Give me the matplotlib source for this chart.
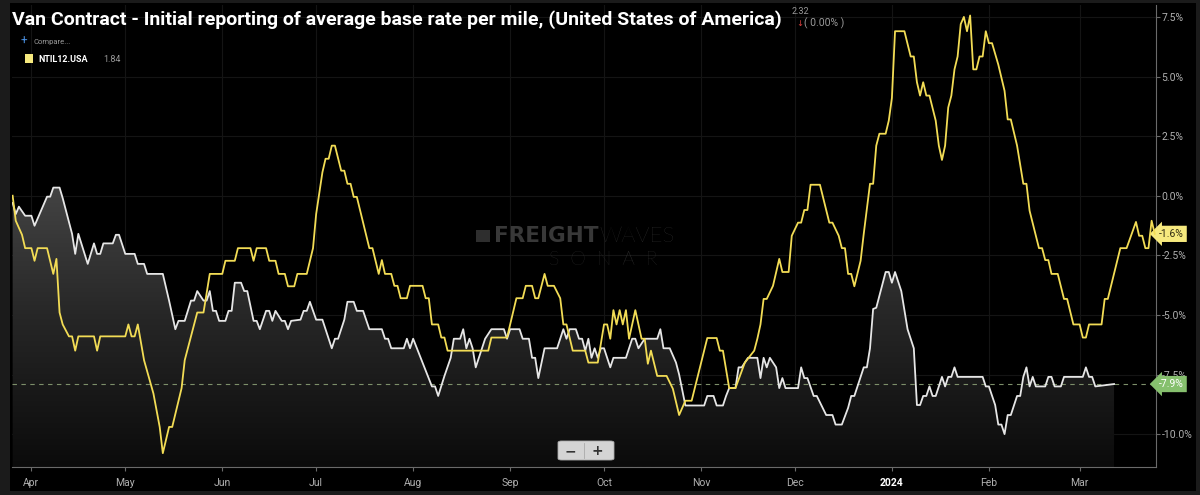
import numpy as np
import pandas as pd
import matplotlib
matplotlib.use("Agg")
import matplotlib.pyplot as plt
import matplotlib.dates as mdates
from matplotlib.patches import FancyBboxPatch, PathPatch, Rectangle
from matplotlib.path import Path

plt.rcParams['font.family'] = ['Roboto', 'DejaVu Sans']

# ---- data ----
start = pd.Timestamp("2023-03-26")

# NTIL12.USA (yellow line): days since start, value in %
yellow_day = [0, 1, 3, 4, 6, 7, 8, 11, 13, 14, 15, 16, 18, 19, 20, 21, 26, 27, 28, 36,
              37, 38, 39, 40, 42, 45, 47, 48, 50, 51, 54, 55, 59, 61, 63, 67, 68, 71, 72, 76,
              77, 78, 81, 82, 84, 85, 87, 88, 90, 91, 94, 96, 97, 99, 100, 101, 102, 103, 105, 106,
              107, 108, 109, 110, 114, 115, 117, 118, 119, 121, 122, 123, 124, 126, 127, 131, 132, 133, 134, 136,
              137, 138, 139, 152, 153, 158, 161, 163, 164, 166, 167, 168, 170, 171, 173, 175, 176, 177, 179, 183,
              184, 187, 189, 190, 191, 192, 193, 194, 195, 196, 197, 199, 201, 202, 203, 204, 206, 209, 211, 213,
              215, 217, 222, 225, 226, 227, 229, 231, 233, 234, 237, 238, 239, 240, 241, 243, 245, 246, 248, 249,
              251, 252, 253, 254, 255, 258, 261, 262, 264, 265, 266, 267, 268, 269, 271, 272, 274, 275, 276, 277,
              279, 280, 281, 282, 285, 287, 288, 289, 290, 291, 292, 293, 295, 296, 297, 298, 299, 300, 301, 302,
              303, 304, 305, 306, 307, 308, 309, 310, 311, 312, 313, 315, 317, 318, 319, 321, 323, 324, 325, 328,
              329, 330, 331, 332, 334, 336, 337, 339, 341, 342, 343, 344, 348, 349, 350, 354, 356, 359, 360, 361,
              362, 363, 364, 365]
yellow_val = [0.0, -1.05, -1.64, -2.2, -2.2, -2.73, -2.2, -2.2, -3.28, -2.65, -4.9, -5.4, -5.9, -5.9, -6.5, -5.9, -5.9, -6.5, -5.9, -5.9,
              -5.4, -5.9, -5.9, -5.4, -6.9, -8.3, -9.7, -10.8, -9.7, -9.7, -8.07, -6.9, -4.9, -4.9, -3.28, -3.28, -2.73, -2.73, -2.2, -2.2,
              -2.73, -2.2, -2.2, -2.73, -2.73, -3.28, -3.28, -3.8, -3.8, -3.28, -3.28, -2.2, -0.77, 0.98, 1.55, 1.55, 2.1, 2.1, 1.05, 1.05,
              0.5, 0.5, -0.05, -0.05, -2.2, -2.2, -3.28, -2.7, -3.28, -3.28, -3.78, -3.78, -4.3, -4.3, -3.78, -3.78, -4.3, -4.3, -5.4, -5.4,
              -5.95, -5.95, -6.5, -6.5, -5.95, -5.95, -4.3, -4.3, -3.78, -3.78, -4.3, -4.3, -3.28, -3.78, -3.78, -4.3, -5.4, -5.4, -6.5, -6.5,
              -7.0, -7.0, -5.4, -5.4, -6.0, -4.8, -5.4, -4.8, -5.4, -4.8, -6.0, -4.8, -6.0, -6.0, -7.05, -6.5, -7.56, -7.56, -8.1, -9.2,
              -8.6, -8.6, -5.97, -5.97, -6.5, -6.5, -8.07, -8.07, -7.35, -7.0, -6.5, -6.0, -5.4, -4.33, -4.33, -3.78, -2.65, -3.2, -3.2, -1.68,
              -1.13, -1.13, -0.6, -0.6, 0.46, 0.46, -1.13, -1.13, -1.68, -2.2, -2.2, -3.28, -3.28, -3.8, -2.73, -1.6, 0.5, 0.5, 2.1, 2.6,
              2.6, 3.15, 4.1, 6.9, 6.9, 5.84, 5.84, 4.76, 4.2, 4.76, 4.2, 4.2, 3.15, 2.1, 1.5, 2.1, 3.7, 4.2, 5.3, 5.84,
              7.2, 7.5, 6.9, 7.56, 5.3, 5.3, 5.84, 5.84, 6.9, 6.4, 6.4, 5.5, 4.4, 3.2, 3.2, 2.1, 0.5, 0.5, -0.63, -2.2,
              -2.2, -2.7, -2.7, -3.28, -3.28, -4.33, -4.33, -5.4, -5.4, -5.95, -5.95, -5.4, -5.4, -4.33, -4.33, -2.2, -2.2, -1.1, -1.68, -1.68,
              -2.2, -2.2, -1.05, -1.6]

# Van contract (white line with grey area)
white_day = [0, 1, 2, 4, 6, 7, 11, 12, 13, 15, 16, 19, 20, 21, 23, 24, 26, 27, 28, 29,
             32, 33, 34, 36, 39, 40, 42, 43, 48, 50, 52, 53, 55, 57, 58, 59, 61, 62, 63, 64,
             65, 66, 68, 69, 70, 71, 73, 74, 75, 77, 78, 79, 81, 82, 83, 84, 86, 87, 88, 89,
             92, 93, 94, 95, 97, 99, 102, 103, 104, 106, 107, 109, 110, 112, 114, 118, 119, 120, 121, 125,
             126, 127, 128, 134, 135, 136, 138, 140, 141, 143, 144, 145, 146, 147, 148, 150, 151, 153, 157, 158,
             159, 162, 163, 165, 166, 167, 168, 170, 174, 176, 177, 178, 180, 181, 182, 183, 184, 185, 186, 187,
             188, 189, 191, 192, 196, 198, 199, 200, 202, 206, 207, 208, 210, 212, 213, 215, 221, 222, 224, 225,
             227, 228, 229, 231, 232, 233, 235, 238, 239, 240, 241, 242, 244, 245, 246, 247, 251, 252, 253, 254,
             256, 257, 260, 262, 263, 265, 267, 268, 269, 272, 273, 274, 275, 276, 279, 280, 281, 282, 284, 286,
             288, 289, 290, 291, 292, 293, 294, 295, 297, 298, 299, 300, 301, 302, 310, 311, 312, 314, 315, 316,
             317, 318, 319, 321, 322, 323, 324, 325, 326, 327, 330, 331, 332, 333, 335, 336, 342, 343, 344, 345,
             346, 352]
white_val = [-0.3, -0.77, -0.46, -0.84, -0.84, -1.26, -0.04, -0.04, 0.34, 0.34, -0.1, -1.6, -2.44, -1.6, -2.44, -2.86, -2.0, -2.44, -2.44, -2.0,
             -2.0, -1.64, -1.64, -2.44, -2.44, -2.86, -2.86, -3.28, -3.28, -4.4, -5.6, -5.25, -5.25, -4.4, -4.4, -4.0, -4.4, -4.4, -4.0, -4.83,
             -4.83, -5.25, -5.25, -4.83, -4.83, -3.65, -3.65, -4.0, -4.0, -5.25, -5.25, -5.6, -4.83, -4.83, -5.25, -4.83, -5.25, -5.25, -5.6, -5.25,
             -5.2, -4.83, -4.83, -4.45, -5.2, -5.2, -6.4, -6.0, -6.0, -5.2, -4.45, -4.45, -4.83, -4.83, -5.6, -5.6, -6.0, -6.0, -6.4, -6.4,
             -6.0, -6.4, -6.0, -8.0, -8.0, -8.4, -7.56, -6.8, -6.0, -6.0, -5.6, -6.4, -6.0, -6.4, -7.2, -6.4, -6.0, -5.6, -5.6, -6.0,
             -5.6, -5.6, -6.0, -6.0, -6.8, -6.8, -7.65, -6.4, -6.4, -5.6, -6.0, -5.6, -5.6, -6.0, -6.0, -6.5, -6.0, -6.8, -6.4, -6.8,
             -6.4, -6.4, -7.2, -6.8, -6.8, -6.0, -6.0, -6.4, -6.0, -6.0, -5.6, -6.4, -6.4, -7.0, -7.5, -8.8, -8.8, -8.4, -8.4, -8.8,
             -8.8, -8.4, -8.07, -8.07, -7.2, -7.2, -6.8, -6.8, -7.65, -6.8, -7.2, -6.8, -7.2, -8.07, -7.65, -8.07, -8.07, -7.2, -7.65, -7.65,
             -8.4, -8.4, -9.2, -9.2, -9.6, -9.6, -8.9, -8.4, -8.4, -7.2, -7.2, -6.4, -4.75, -4.7, -3.2, -3.2, -3.65, -3.2, -4.0, -5.6,
             -6.4, -8.78, -8.78, -8.4, -8.4, -8.0, -8.4, -8.4, -7.6, -8.0, -7.6, -7.6, -7.2, -7.6, -7.6, -8.0, -8.0, -8.78, -9.6, -9.6,
             -10.0, -9.2, -9.2, -8.4, -8.4, -7.6, -7.2, -8.0, -7.6, -8.0, -8.0, -7.6, -7.6, -8.0, -8.0, -7.6, -7.6, -7.2, -7.6, -7.6,
             -8.0, -7.9]

y_ticks = [7.5, 5.0, 2.5, 0.0, -2.5, -5.0, -7.5, -10.0]
month_starts = ["2023-04-01", "2023-05-01", "2023-06-01", "2023-07-01", "2023-08-01", "2023-09-01",
                "2023-10-01", "2023-11-01", "2023-12-01", "2024-01-01", "2024-02-01", "2024-03-01"]
month_labels = ["Apr", "May", "Jun", "Jul", "Aug", "Sep", "Oct", "Nov", "Dec", "2024", "Feb", "Mar"]
last_white = -7.9
last_yellow = -1.6

# ---- figure ----
W, H = 1200, 495
fig = plt.figure(figsize=(W / 100, H / 100), dpi=100, facecolor="#1b1b1b")


def px(x, y):
    return x / W, 1 - y / H


# black panel inside the grey frame
fig.patches.append(Rectangle(px(10, 491), (1196 - 10) / W, (491 - 3) / H,
                             transform=fig.transFigure, fc="#000000", ec="none", zorder=-10))

ax = fig.add_axes([12 / W, 1 - 467 / H, (1156 - 12) / W, (467 - 5) / H])
ax.set_facecolor("#000000")

yd = start + pd.to_timedelta(yellow_day, unit="D")
wd = start + pd.to_timedelta(white_day, unit="D")

ymin, ymax = -11.38, 8.0
x0 = mdates.date2num(start) - 0.2
x1 = mdates.date2num(start) + 365.4
ax.set_xlim(x0, x1)
ax.set_ylim(ymin, ymax)

# faint grid
for v in y_ticks:
    ax.axhline(v, color="#141414", lw=0.8, zorder=0)
for m in month_starts:
    ax.axvline(mdates.date2num(pd.Timestamp(m)), color="#141414", lw=0.8, zorder=0)

# gradient area under white line
wx = mdates.date2num(wd)
grad = np.linspace(0, 1, 256).reshape(-1, 1)
cmap = matplotlib.colors.LinearSegmentedColormap.from_list("g", ["#0b0b0b", "#262626", "#474747"])
img = ax.imshow(grad, extent=[x0, x1, ymin, 1.0], origin="lower", aspect="auto",
                cmap=cmap, zorder=1)
verts = [(wx[0], ymin)] + list(zip(wx, white_val)) + [(wx[-1], ymin), (wx[0], ymin)]
poly = PathPatch(Path(verts), facecolor="none", edgecolor="none")
ax.add_patch(poly)
img.set_clip_path(poly)

ax.plot(wd, white_val, color="#e6e6e6", lw=1.3, zorder=3)
ax.plot(yd, yellow_val, color="#f2dc55", lw=1.3, zorder=4)

ax.axhline(last_white, color="#7d8f6a", lw=0.8, ls=(0, (4, 4)), zorder=2)

# axes styling
for s in ["top", "left"]:
    ax.spines[s].set_visible(False)
ax.spines["right"].set_color("#6a6a6a")
ax.spines["bottom"].set_color("#6a6a6a")
ax.yaxis.tick_right()
ax.set_yticks(y_ticks)
ax.set_yticklabels([f"{v:.1f}%" for v in y_ticks])
ax.tick_params(axis="y", colors="#6a6a6a", labelcolor="#b0b0b0", labelsize=7.5,
               length=3, width=0.8, pad=1)
ax.set_xticks([mdates.date2num(pd.Timestamp(m)) for m in month_starts])
ax.set_xticklabels(month_labels)
ax.tick_params(axis="x", colors="#6a6a6a", labelcolor="#b0b0b0", labelsize=7.5,
               length=3, width=0.8, pad=5)
for lab in ax.get_xticklabels():
    if lab.get_text() == "2024":
        lab.set_color("#ffffff")
        lab.set_fontweight("bold")

# value tags on the right
ax.annotate(f"{last_yellow:.1f}%", xy=(1.0, last_yellow), xycoords=("axes fraction", "data"),
            xytext=(2, 0), textcoords="offset points", va="center", ha="left",
            fontsize=7.5, color="#2e2a10", annotation_clip=False,
            bbox=dict(boxstyle="larrow,pad=0.3", fc="#f6e97e", ec="none"))
ax.annotate(f"{last_white:.1f}%", xy=(1.0, last_white), xycoords=("axes fraction", "data"),
            xytext=(2, 0), textcoords="offset points", va="center", ha="left",
            fontsize=7.5, color="#ffffff", annotation_clip=False,
            bbox=dict(boxstyle="larrow,pad=0.3", fc="#86c06e", ec="none"))

# title and legend
fig.text(*px(12, 20), "Van Contract - Initial reporting of average base rate per mile, (United States of America)",
         color="white", fontsize=14, fontweight="bold", va="center", ha="left")
fig.text(*px(792, 12), "2.32", color="#9a9a9a", fontsize=6.5, va="center")
fig.text(*px(796, 23), "↓", color="#e04040", fontsize=6, va="center", family=["DejaVu Sans"])
fig.text(*px(804, 23), "( 0.00% )", color="#9a9a9a", fontsize=7.5, va="center")
fig.text(*px(21, 41), "+", color="#4a90e2", fontsize=8.5, va="center", ha="left")
fig.text(*px(33, 42), "Compare...", color="#9a9a9a", fontsize=5.5, va="center", ha="left")
fig.patches.append(FancyBboxPatch(px(25, 63), 8 / W, 9 / H, boxstyle="square,pad=0",
                                  transform=fig.transFigure, fc="#f6e97e", ec="none"))
fig.text(*px(38, 59), "NTIL12.USA", color="white", fontsize=6.5, fontweight="bold", va="center")
fig.text(*px(103, 59), "1.84", color="#9a9a9a", fontsize=6.5, va="center")

# watermark
fig.canvas.draw()
r = fig.canvas.get_renderer()
t1 = fig.text(*px(494, 236), "FREIGHT", color="#383838", fontsize=15.5, fontweight="bold",
              va="center", family=["DejaVu Sans"])
bb = t1.get_window_extent(r)
fig.text(bb.x1 / W + 1 / W, 1 - 236 / H, "WAVES", color="#3c3c3c", fontsize=16, fontweight="light",
         va="center", family=["Lato", "DejaVu Sans"])
fig.text(*px(603, 260), "S  O  N  A  R", color="#3a3a3a", fontsize=14, fontweight="light",
         va="center", ha="center", family=["Lato", "DejaVu Sans"])
fig.patches.append(Rectangle(px(476, 242), 14 / W, 12 / H, transform=fig.transFigure,
                             fc="#2e2e2e", ec="none"))

# zoom buttons
fig.patches.append(FancyBboxPatch(px(558, 460), 56 / W, 19 / H, boxstyle="round,pad=0,rounding_size=0.003",
                                  transform=fig.transFigure, fc="#d4d4d4", ec="#aaaaaa", lw=0.6, zorder=5))
fig.text(*px(570, 451), "−", color="#333333", fontsize=10, fontweight="bold", va="center", ha="center",
         family=["DejaVu Sans"], zorder=6)
fig.text(*px(597, 451), "+", color="#333333", fontsize=10, fontweight="bold", va="center", ha="center",
         family=["DejaVu Sans"], zorder=6)
fig.lines.append(plt.Line2D([584 / W, 584 / W], [1 - 458 / H, 1 - 443 / H], transform=fig.transFigure,
                            color="#aaaaaa", lw=0.6, zorder=6))

fig.savefig("out.png", dpi=100, facecolor=fig.get_facecolor())
